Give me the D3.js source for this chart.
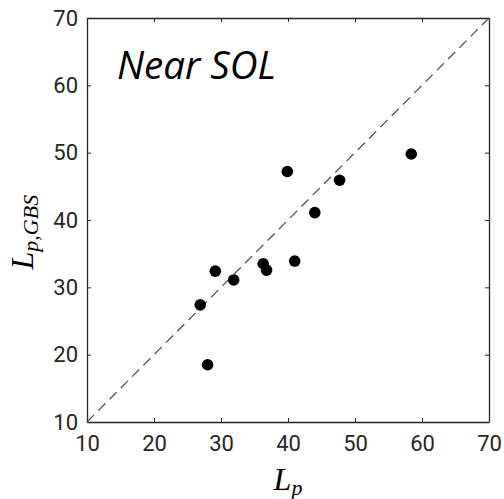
<!DOCTYPE html>
<html>
<head>
<meta charset="utf-8">
<script src="https://cdn.jsdelivr.net/npm/d3@7"></script>
<style>
  body { margin: 0; background: #fff; }
</style>
</head>
<body>
<div id="chart"></div>
<script>
// data
var lp    = [39.9, 44.0, 47.7, 58.4, 29.15, 31.9, 36.3, 36.8, 41.0, 26.9, 28.0];
var lpGbs = [47.2, 41.1, 45.9, 49.8, 32.4, 31.1, 33.5, 32.55, 33.9, 27.4, 18.5];
var tickVals = [10, 20, 30, 40, 50, 60, 70];
var refLine = [10, 70];

var width = 504, height = 499;
var margin = { left: 87, right: 15, top: 18, bottom: 77 };
var axisColor = "#262626";

var svg = d3.select("#chart").append("svg")
  .attr("width", width)
  .attr("height", height);

var xScale = d3.scaleLinear().domain([10, 70]).range([margin.left, width - margin.right]);
var yScale = d3.scaleLinear().domain([10, 70]).range([height - margin.bottom, margin.top]);

function styleAxis(g) {
  g.attr("font-family", null).attr("font-size", null);
  g.selectAll("path").attr("stroke", axisColor).attr("stroke-width", 1.3);
  g.selectAll("line").attr("stroke", axisColor);
  g.selectAll("text")
    .attr("fill", axisColor)
    .style("font-family", "Roboto, sans-serif")
    .style("font-size", "22px");
}

// bottom + left axes, ticks point inward
svg.append("g")
  .attr("transform", "translate(0," + yScale(10) + ")")
  .call(d3.axisBottom(xScale).tickValues(tickVals).tickSizeInner(-4).tickSizeOuter(0).tickPadding(11))
  .call(styleAxis)
  .selectAll("text").attr("dy", "0.8em");

svg.append("g")
  .attr("transform", "translate(" + xScale(10) + ",0)")
  .call(d3.axisLeft(yScale).tickValues(tickVals).tickSizeInner(-4).tickSizeOuter(0).tickPadding(9))
  .call(styleAxis);

// mirrored top + right, no labels
svg.append("g")
  .attr("transform", "translate(0," + yScale(70) + ")")
  .call(d3.axisTop(xScale).tickValues(tickVals).tickSizeInner(-4).tickSizeOuter(0).tickFormat(""))
  .call(styleAxis);

svg.append("g")
  .attr("transform", "translate(" + xScale(70) + ",0)")
  .call(d3.axisRight(yScale).tickValues(tickVals).tickSizeInner(-4).tickSizeOuter(0).tickFormat(""))
  .call(styleAxis);

// 1:1 dashed line
svg.append("line")
  .attr("x1", xScale(refLine[0]))
  .attr("y1", yScale(refLine[0]))
  .attr("x2", xScale(refLine[1]))
  .attr("y2", yScale(refLine[1]))
  .attr("stroke", "#555")
  .attr("stroke-width", 1.3)
  .attr("stroke-dasharray", "10,6");

// points
svg.selectAll("circle.pt")
  .data(lp)
  .enter().append("circle")
  .attr("class", "pt")
  .attr("cx", function (d) { return xScale(d); })
  .attr("cy", function (d, i) { return yScale(lpGbs[i]); })
  .attr("r", 5.8)
  .attr("fill", "#000");

// annotation
svg.append("text")
  .attr("x", 117)
  .attr("y", 79)
  .attr("font-family", "'Open Sans', sans-serif")
  .attr("font-style", "italic")
  .attr("font-size", 38.5)
  .attr("fill", "#000")
  .text("Near SOL");

// axis labels (LaTeX-ish)
var xl = svg.append("text")
  .attr("x", xScale(40))
  .attr("y", 490)
  .attr("text-anchor", "middle")
  .attr("font-family", "'Liberation Serif', serif")
  .attr("font-style", "italic")
  .attr("font-size", 32)
  .attr("fill", "#000");
xl.append("tspan").text("L");
xl.append("tspan").attr("font-size", 22).attr("dy", 5).text("p");

var yl = svg.append("text")
  .attr("transform", "translate(33," + yScale(38.2) + ")rotate(-90)")
  .attr("text-anchor", "middle")
  .attr("font-family", "'Liberation Serif', serif")
  .attr("font-style", "italic")
  .attr("font-size", 32)
  .attr("fill", "#000");
yl.append("tspan").text("L");
yl.append("tspan").attr("font-size", 22).attr("dy", 5).text("p,GBS");
</script>
</body>
</html>
